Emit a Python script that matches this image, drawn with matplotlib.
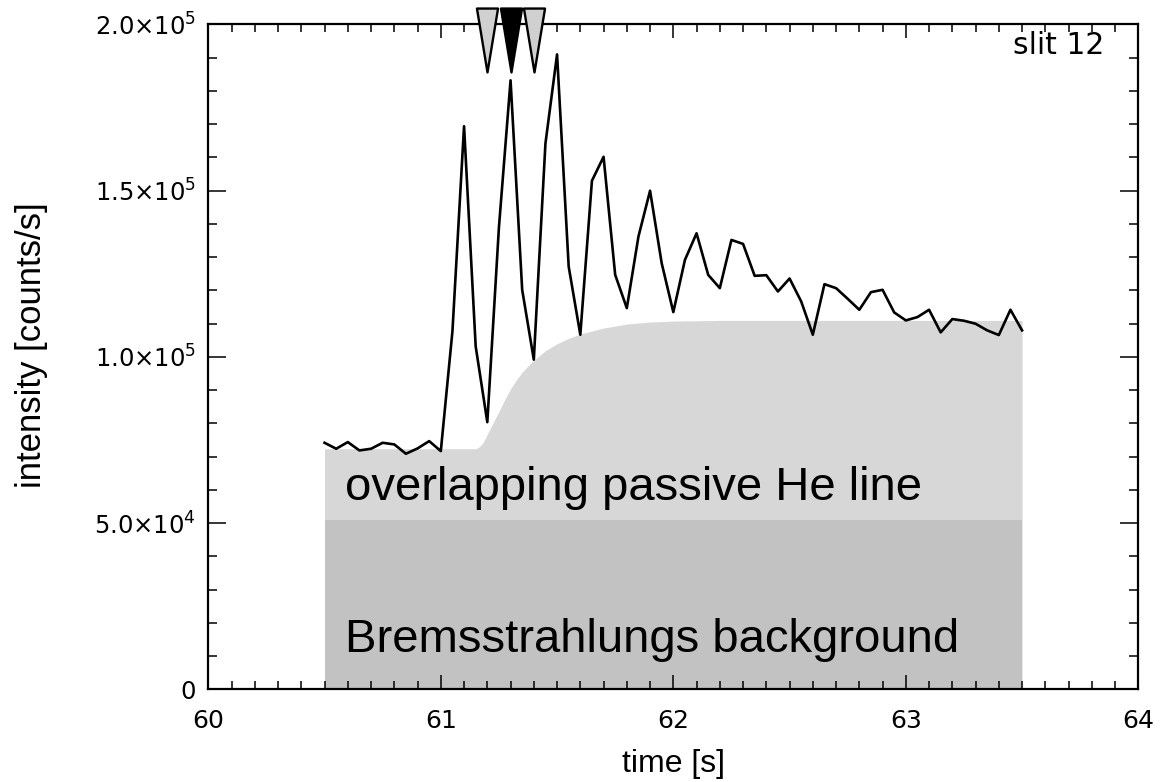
import matplotlib
matplotlib.use("Agg")
import matplotlib.pyplot as plt
from matplotlib.path import Path
from matplotlib.ticker import MultipleLocator
from matplotlib.transforms import blended_transform_factory

# measured intensity, slit 12, sampled every 50 ms
time = [60.50, 60.55, 60.60, 60.65, 60.70, 60.75, 60.80, 60.85, 60.90, 60.95,
        61.00, 61.05, 61.10, 61.15, 61.20, 61.25, 61.30, 61.35, 61.40, 61.45,
        61.50, 61.55, 61.60, 61.65, 61.70, 61.75, 61.80, 61.85, 61.90, 61.95,
        62.00, 62.05, 62.10, 62.15, 62.20, 62.25, 62.30, 62.35, 62.40, 62.45,
        62.50, 62.55, 62.60, 62.65, 62.70, 62.75, 62.80, 62.85, 62.90, 62.95,
        63.00, 63.05, 63.10, 63.15, 63.20, 63.25, 63.30, 63.35, 63.40, 63.45,
        63.50]
intensity = [74.2, 72.4, 74.4, 71.9, 72.4, 74.2, 73.7, 70.9, 72.5, 74.7,
             71.7, 107.7, 169.4, 103.2, 80.4, 139.0, 183.2, 120.2, 99.2, 164.2,
             191.0, 127.2, 106.7, 153.0, 160.2, 124.7, 114.7, 136.2, 150.0, 128.2,
             113.5, 129.2, 137.2, 124.7, 120.7, 135.2, 134.0, 124.4, 124.6, 119.7,
             123.6, 116.7, 106.7, 121.9, 120.7, 117.5, 114.2, 119.5, 120.2, 113.4,
             111.0, 112.0, 114.2, 107.4, 111.4, 110.9, 110.0, 108.0, 106.6, 114.2,
             108.0]
intensity = [v * 1e3 for v in intensity]

# upper edge of the passive He line contribution
he_time = [60.50, 61.15, 61.16, 61.17, 61.18, 61.19, 61.20, 61.225, 61.25, 61.275,
           61.30, 61.325, 61.35, 61.375, 61.40, 61.45, 61.50, 61.55, 61.60, 61.70,
           61.80, 61.90, 62.00, 62.20, 63.50]
he_level = [72.4, 72.4, 72.7, 73.3, 74.1, 75.3, 76.8, 80.2, 83.6, 87.2,
            90.4, 93.1, 95.4, 97.3, 99.0, 101.9, 104.0, 105.6, 106.9, 108.7,
            109.9, 110.5, 110.8, 111.0, 111.0]
he_level = [v * 1e3 for v in he_level]

brems_time = [60.5, 63.5]
brems_level = [51e3, 51e3]

# beam blips marked on top
marker_time = [61.2, 61.3, 61.4]
marker_color = ["#d0d0d0", "black", "#d0d0d0"]

yticks = [0, 5e4, 1e5, 1.5e5, 2e5]
ytick_labels = ["0", "5.0\u00d710$^4$", "1.0\u00d710$^5$", "1.5\u00d710$^5$", "2.0\u00d710$^5$"]
xticks = [60, 61, 62, 63, 64]

fig = plt.figure(figsize=(11.65, 7.82), dpi=100)
ax = fig.add_axes([0.1788, 0.1183, 0.7983, 0.8504])

ax.fill_between(he_time, he_level, color="#d7d7d7", lw=0)
ax.fill_between(brems_time, brems_level, color="#c2c2c2", lw=0)
ax.plot(time, intensity, color="black", lw=1.9)

ax.text(60.59, 60.5e3, "overlapping passive He line", fontsize=34,
        family="Liberation Sans", va="center", ha="left")
ax.text(60.59, 14.8e3, "Bremsstrahlungs background", fontsize=34,
        family="Liberation Sans", va="center", ha="left")
ax.text(0.964, 0.969, "slit 12", transform=ax.transAxes, fontsize=21.5,
        ha="right", va="center")

tri = Path([(-0.33, 1.0), (0.33, 1.0), (0.0, -1.0), (-0.33, 1.0)],
           [Path.MOVETO, Path.LINETO, Path.LINETO, Path.CLOSEPOLY])
trans = blended_transform_factory(ax.transData, ax.transAxes)
for t, c in zip(marker_time, marker_color):
    ax.plot([t], [0.976], marker=tri, markersize=46, markerfacecolor=c,
            markeredgecolor="black", markeredgewidth=1.7, transform=trans,
            clip_on=False, zorder=5, linestyle="none")

ax.set_xlim(60, 64)
ax.set_ylim(0, 2e5)
ax.set_xticks(xticks)
ax.set_xticklabels([str(x) for x in xticks])
ax.set_yticks(yticks)
ax.set_yticklabels(ytick_labels)
ax.xaxis.set_minor_locator(MultipleLocator(0.1))
ax.yaxis.set_minor_locator(MultipleLocator(1e4))

ax.tick_params(which="both", direction="in", top=True, right=True, width=1.1)
ax.tick_params(axis="x", which="major", length=10, pad=14, labelsize=18)
ax.tick_params(axis="x", which="minor", length=5.5)
ax.tick_params(axis="y", which="major", length=13, pad=9, labelsize=17.5)
ax.tick_params(axis="y", which="minor", length=6.5)
for s in ax.spines.values():
    s.set_linewidth(1.6)

ax.set_xlabel("time [s]", fontsize=23, family="Liberation Sans")
ax.xaxis.set_label_coords(0.5, -0.09)
ax.set_ylabel("intensity [counts/s]", fontsize=25, family="Liberation Sans")
ax.yaxis.set_label_coords(-0.172, 0.518)

fig.savefig("out.png", dpi=100)
